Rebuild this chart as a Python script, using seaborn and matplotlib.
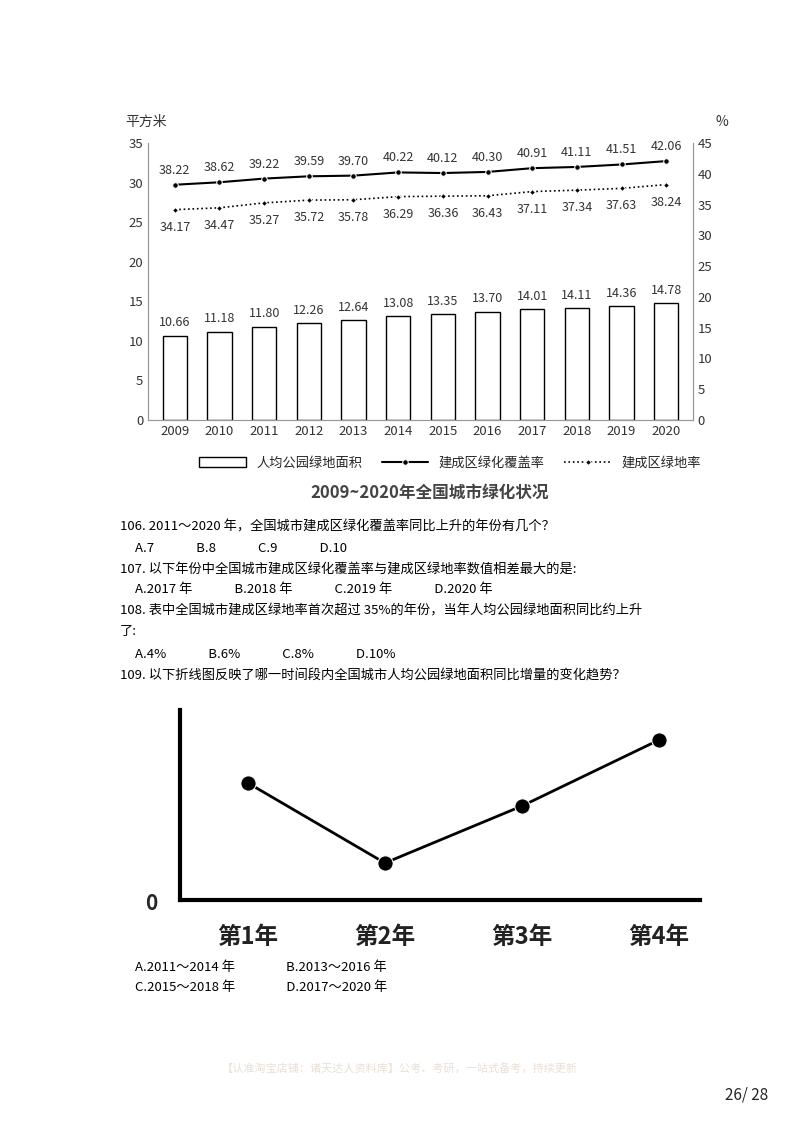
import numpy as np
import pandas as pd
import seaborn as sns
import matplotlib.pyplot as plt

sns.set_style('white')
plt.rcParams['font.family'] = ['Noto Sans CJK SC', 'DejaVu Sans']

years = [str(y) for y in range(2009, 2021)]
park_area = [10.66, 11.18, 11.80, 12.26, 12.64, 13.08, 13.35, 13.70, 14.01, 14.11, 14.36, 14.78]
coverage = [38.22, 38.62, 39.22, 39.59, 39.70, 40.22, 40.12, 40.30, 40.91, 41.11, 41.51, 42.06]
green_rate = [34.17, 34.47, 35.27, 35.72, 35.78, 36.29, 36.36, 36.43, 37.11, 37.34, 37.63, 38.24]

trend_labels = ['第1年', '第2年', '第3年', '第4年']
trend_values = [117, 37, 94, 160]

W, H = 800, 1132
fig = plt.figure(figsize=(8, 11.32), dpi=100)

def fx(px):
    return px / W

def fy(py):
    return 1 - py / H

# ---- top chart ----
ax = fig.add_axes([fx(148), fy(420), fx(693 - 148), fy(143) - fy(420)])
df = pd.DataFrame({'year': years, 'area': park_area})
sns.barplot(data=df, x='year', y='area', ax=ax, color='white', edgecolor='black',
            linewidth=1.0, width=0.55, label='人均公园绿地面积')
ax.set_ylim(0, 35)
ax.set_yticks(range(0, 36, 5))
ax.set_xlabel('')
ax.set_ylabel('')
for i, v in enumerate(park_area):
    ax.text(i, v + 0.8, f'{v:.2f}', ha='center', va='bottom', fontsize=9, color='#333')

ax2 = ax.twinx()
x = np.arange(len(years))
sns.lineplot(x=x, y=coverage, ax=ax2, color='black', marker='o', markersize=4,
             linewidth=1.5, label='建成区绿化覆盖率', legend=False)
sns.lineplot(x=x, y=green_rate, ax=ax2, color='black', marker='D', markersize=3,
             linestyle=':', linewidth=1.2, label='建成区绿地率', legend=False)
ax2.set_ylim(0, 45)
ax2.set_yticks(range(0, 46, 5))
for i in range(len(years)):
    ax2.text(i, coverage[i] + 1.3, f'{coverage[i]:.2f}', ha='center', va='bottom', fontsize=9, color='#333')
    ax2.text(i, green_rate[i] - 1.8, f'{green_rate[i]:.2f}', ha='center', va='top', fontsize=9, color='#333')

for a in (ax, ax2):
    for s in a.spines.values():
        s.set_color('#999')
    a.spines['top'].set_visible(False)
    a.tick_params(length=0, labelsize=9.5, colors='#333')
ax.set_xlim(-0.6, 11.6)

h1, l1 = ax.get_legend_handles_labels()
h2, l2 = ax2.get_legend_handles_labels()
if ax.get_legend() is not None:
    ax.get_legend().remove()
fig.legend(h1 + h2, l1 + l2, loc='center', bbox_to_anchor=(fx(450), fy(463)), ncol=3,
           frameon=False, fontsize=9.5, handlelength=3.5, columnspacing=1.5)

fig.text(fx(125), fy(122), '平方米', fontsize=10, color='#333', va='center')
fig.text(fx(715), fy(122), '%', fontsize=10, color='#333', va='center')
fig.text(fx(430), fy(493), '2009~2020年全国城市绿化状况', fontsize=12, fontweight='bold',
         color='#444', ha='center', va='center')

# ---- questions ----
lines = [
    (120, 527, '106. 2011～2020 年，全国城市建成区绿化覆盖率同比上升的年份有几个？'),
    (135, 548, 'A.7              B.8              C.9              D.10'),
    (120, 569, '107. 以下年份中全国城市建成区绿化覆盖率与建成区绿地率数值相差最大的是:'),
    (135, 590, 'A.2017 年              B.2018 年              C.2019 年              D.2020 年'),
    (120, 611, '108. 表中全国城市建成区绿地率首次超过 35%的年份，当年人均公园绿地面积同比约上升'),
    (120, 632, '了:'),
    (135, 654, 'A.4%              B.6%              C.8%              D.10%'),
    (120, 675, '109. 以下折线图反映了哪一时间段内全国城市人均公园绿地面积同比增量的变化趋势？'),
    (135, 968, 'A.2011～2014 年                 B.2013～2016 年'),
    (135, 988, 'C.2015～2018 年                 D.2017～2020 年'),
]
for px, py, s in lines:
    fig.text(fx(px), fy(py), s, fontsize=9.5, va='center', color='black')

# ---- bottom chart ----
bx = fig.add_axes([fx(180), fy(900), fx(700 - 180), fy(710) - fy(900)])
sns.lineplot(x=np.arange(4), y=trend_values, ax=bx, color='black', linewidth=2,
             marker='o', markersize=11)
bx.set_xlim(-0.496, 3.3)
bx.set_ylim(0, 190)
bx.set_xticks([])
bx.set_yticks([])
for k in ('top', 'right'):
    bx.spines[k].set_visible(False)
for k in ('left', 'bottom'):
    bx.spines[k].set_linewidth(3)
    bx.spines[k].set_color('black')
fig.text(fx(151), fy(903), '0', fontsize=15, fontweight='bold', ha='center', va='center')
for i, lab in enumerate(trend_labels):
    fig.text(fx(248 + 137 * i), fy(937), lab, fontsize=17, fontweight='bold',
             ha='center', va='center', color='#222')

fig.text(fx(400), fy(1068), '【认准淘宝店铺：诸天达人资料库】公考、考研，一站式备考，持续更新',
         fontsize=8, color='#e8e0d8', ha='center', va='center')
fig.text(fx(768), fy(1095), '26/ 28', fontsize=11, ha='right', va='center')

fig.savefig('out.png', dpi=100, facecolor='white')
